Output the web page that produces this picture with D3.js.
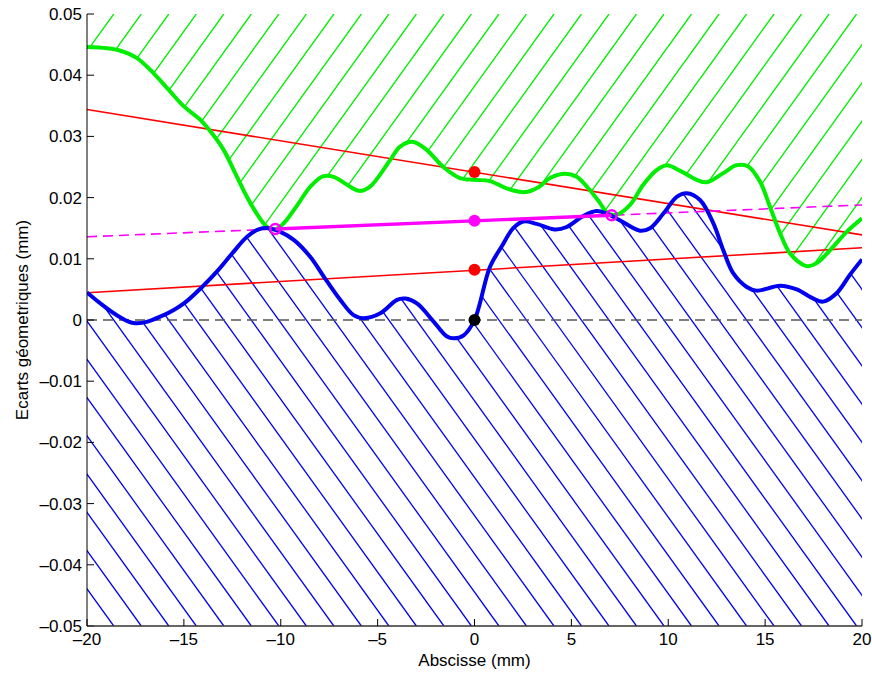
<!DOCTYPE html>
<html><head><meta charset="utf-8">
<script src="https://cdn.jsdelivr.net/npm/d3@7"></script>
<style>
body{margin:0;background:#fff;}
text{font-family:"Liberation Sans",Arial,sans-serif;}
</style></head>
<body><svg id="chart" width="872" height="673"></svg>
<script>
// ---- data ----
const xTicks = [-20,-15,-10,-5,0,5,10,15,20];
const xTickLabels = ["\u201320","\u201315","\u201310","\u20135","0","5","10","15","20"];
const yTicks = [-0.05,-0.04,-0.03,-0.02,-0.01,0,0.01,0.02,0.03,0.04,0.05];
const yTickLabels = ["\u20130.05","\u20130.04","\u20130.03","\u20130.02","\u20130.01","0","0.01","0.02","0.03","0.04","0.05"];

// lower profile (blue)
const lowerX = [-20,-17.6,-16.04,-15.0,-14.06,-13.3,-12.5,-11.74,-11.14,-10.62,-10.02,-9.33,-8.47,-7.78,-6.93,-6.24,-5.7,-4.86,-4.0,-3.57,-2.97,-2.1,-1.42,-1.07,-0.56,0,0.8,1.4,2.0,2.52,3.21,4.15,4.76,5.62,6.3,6.82,7.5,8.54,9.06,9.75,10.44,10.95,11.64,12.33,12.84,13.36,14.05,14.56,15.77,16.63,17.49,18.0,18.7,19.38,20];
const lowerY = [0.0045,-0.0005,0.0008,0.0027,0.0054,0.0079,0.0109,0.0136,0.0148,0.0150,0.0144,0.0131,0.0103,0.0071,0.0033,0.0008,0.0003,0.0011,0.0033,0.0035,0.0027,-0.0003,-0.0027,-0.0030,-0.0025,0.0,0.0087,0.0120,0.0150,0.0161,0.0157,0.0148,0.0152,0.0170,0.0178,0.0174,0.0163,0.0146,0.0150,0.0174,0.0201,0.0207,0.0196,0.0158,0.0114,0.0076,0.0054,0.0048,0.0056,0.0050,0.0035,0.0030,0.0044,0.0074,0.0099];

// upper profile (green)
const upperX = [-20,-18.97,-18.28,-17.42,-16.56,-15.78,-15.0,-14.15,-13.55,-12.95,-12.35,-11.74,-11.14,-10.71,-10.3,-9.85,-9.16,-8.47,-7.8,-7.27,-6.58,-5.95,-5.39,-4.36,-3.85,-3.16,-2.47,-1.61,-0.75,0,0.8,1.66,2.6,3.3,3.9,4.67,5.27,5.96,6.48,6.85,7.34,8.03,8.71,9.4,9.92,10.6,11.47,11.98,12.84,13.53,14.13,14.74,15.25,15.77,16.28,16.97,17.23,17.66,18.35,19.21,20];
const upperY = [0.0446,0.0444,0.0440,0.0428,0.0403,0.0376,0.0349,0.0327,0.0305,0.0278,0.0240,0.0201,0.0169,0.0152,0.0148,0.0158,0.0187,0.0218,0.0235,0.0234,0.0221,0.0211,0.0218,0.0261,0.0283,0.0291,0.0278,0.0250,0.0232,0.0229,0.0227,0.0215,0.0209,0.0217,0.0232,0.0239,0.0234,0.0212,0.0191,0.0175,0.0172,0.0188,0.0221,0.0245,0.0253,0.0244,0.0229,0.0225,0.0240,0.0253,0.0251,0.0226,0.0185,0.0142,0.0109,0.0090,0.0088,0.0093,0.0114,0.0144,0.0166];

// reference lines (value at x=-20 and x=20)
const redUpperEnds = [0.0344, 0.0139];
const redLowerEnds = [0.00446, 0.0118];
const magentaEnds = [0.0136, 0.0188];
// magenta contact points and mid point
const contactX = [-10.28, 7.08];
const midX = 0;
// markers
const redDots = [[0,0.0242],[0,0.0082]];
const blackDot = [0,0];

// hatch definition (data units)
const hatchStep = 1.42;          // mm between lines along x
const hatchSlope = 0.0044;       // rise per mm
const blueHatchStart = -18.62;   // x where a blue hatch line meets y=-0.05
const greenHatchStart = 9.78;    // x where a green hatch line meets y=0.05

// ---- layout ----
const W = 872, H = 673;
const m = {left:87, right:10, top:14, bottom:47};
const svg = d3.select("#chart");
const x = d3.scaleLinear().domain([-20,20]).range([m.left, W-m.right]);
const y = d3.scaleLinear().domain([-0.05,0.05]).range([H-m.bottom, m.top]);

const defs = svg.append("defs");
defs.append("clipPath").attr("id","plotClip").append("rect")
  .attr("x",x(-20)).attr("y",y(0.05)).attr("width",x(20)-x(-20)).attr("height",y(-0.05)-y(0.05));

const lowerPts = lowerX.map((v,i)=>[v,lowerY[i]]);
const upperPts = upperX.map((v,i)=>[v,upperY[i]]);
const curve = d3.curveCatmullRom.alpha(0.5);

defs.append("clipPath").attr("id","greenClip").append("path")
  .attr("d", d3.area().x(d=>x(d[0])).y0(y(0.05)).y1(d=>y(d[1])).curve(curve)(upperPts));
defs.append("clipPath").attr("id","blueClip").append("path")
  .attr("d", d3.area().x(d=>x(d[0])).y0(y(-0.05)).y1(d=>y(d[1])).curve(curve)(lowerPts));

const plot = svg.append("g").attr("clip-path","url(#plotClip)");

// hatches
const gH = plot.append("g").attr("clip-path","url(#greenClip)");
const greenLines = [];
for (let k=-40;k<40;k++){
  const xt = greenHatchStart + k*hatchStep;
  if (xt < -20 || xt > 20 + 0.1/hatchSlope) continue;
  greenLines.push([[xt,0.05],[xt-0.1/hatchSlope,-0.05]]);
}
gH.selectAll("line").data(greenLines).join("line")
  .attr("x1",d=>x(d[0][0])).attr("y1",d=>y(d[0][1]))
  .attr("x2",d=>x(d[1][0])).attr("y2",d=>y(d[1][1]))
  .attr("stroke","#00ee00").attr("stroke-width",1.3);

const bH = plot.append("g").attr("clip-path","url(#blueClip)");
const blueLines = [];
for (let k=-40;k<40;k++){
  const xb = blueHatchStart + k*hatchStep;
  if (xb < -20 || xb > 20 + 0.1/hatchSlope) continue;
  blueLines.push([[xb,-0.05],[xb-0.1/hatchSlope,0.05]]);
}
bH.selectAll("line").data(blueLines).join("line")
  .attr("x1",d=>x(d[0][0])).attr("y1",d=>y(d[0][1]))
  .attr("x2",d=>x(d[1][0])).attr("y2",d=>y(d[1][1]))
  .attr("stroke","#0000ee").attr("stroke-width",1.3);

// zero dashed line
plot.append("line").attr("x1",x(-20)).attr("x2",x(20)).attr("y1",y(0)).attr("y2",y(0))
  .attr("stroke","#555").attr("stroke-width",1.3).attr("stroke-dasharray","10,6");

// red lines
[redUpperEnds, redLowerEnds].forEach(e=>{
  plot.append("line").attr("x1",x(-20)).attr("y1",y(e[0])).attr("x2",x(20)).attr("y2",y(e[1]))
    .attr("stroke","#ff0000").attr("stroke-width",1.6);
});
// magenta dashed
plot.append("line").attr("x1",x(-20)).attr("y1",y(magentaEnds[0])).attr("x2",x(20)).attr("y2",y(magentaEnds[1]))
  .attr("stroke","#ff00ff").attr("stroke-width",1.6).attr("stroke-dasharray","10,6");

// profiles
const line = d3.line().x(d=>x(d[0])).y(d=>y(d[1])).curve(curve);
plot.append("path").attr("d",line(upperPts)).attr("fill","none").attr("stroke","#00ee00").attr("stroke-width",4);
plot.append("path").attr("d",line(lowerPts)).attr("fill","none").attr("stroke","#0000ee").attr("stroke-width",4);

// magenta solid segment
const mag = xv => magentaEnds[0] + (magentaEnds[1]-magentaEnds[0])*(xv+20)/40;
plot.append("line").attr("x1",x(contactX[0])).attr("y1",y(mag(contactX[0])))
  .attr("x2",x(contactX[1])).attr("y2",y(mag(contactX[1])))
  .attr("stroke","#ff00ff").attr("stroke-width",3.4);

// markers
svg.selectAll("circle.contact").data(contactX).join("circle").attr("class","contact")
  .attr("cx",d=>x(d)).attr("cy",d=>y(mag(d))).attr("r",5)
  .attr("fill","none").attr("stroke","#ff00ff").attr("stroke-width",2.5);
svg.append("circle").attr("cx",x(midX)).attr("cy",y(mag(midX))).attr("r",6).attr("fill","#ff00ff");
svg.selectAll("circle.red").data(redDots).join("circle").attr("class","red")
  .attr("cx",d=>x(d[0])).attr("cy",d=>y(d[1])).attr("r",6).attr("fill","#ff0000");
svg.append("circle").attr("cx",x(blackDot[0])).attr("cy",y(blackDot[1])).attr("r",6).attr("fill","#000");

// axes
const tickLen = 7;
const axL = svg.append("g");
axL.append("line").attr("x1",x(-20)).attr("x2",x(-20)).attr("y1",y(-0.05)).attr("y2",y(0.05)).attr("stroke","#000").attr("stroke-width",1);
yTicks.forEach((t,i)=>{
  axL.append("line").attr("x1",x(-20)).attr("x2",x(-20)+tickLen).attr("y1",y(t)).attr("y2",y(t)).attr("stroke","#000");
  axL.append("text").attr("x",x(-20)-5).attr("y",y(t)).attr("dy","0.35em").attr("text-anchor","end")
    .attr("font-size",17).text(yTickLabels[i]);
});
const axB = svg.append("g");
axB.append("line").attr("x1",x(-20)).attr("x2",x(20)).attr("y1",y(-0.05)).attr("y2",y(-0.05)).attr("stroke","#333").attr("stroke-width",1.3);
xTicks.forEach((t,i)=>{
  axB.append("line").attr("x1",x(t)).attr("x2",x(t)).attr("y1",y(-0.05)).attr("y2",y(-0.05)-tickLen).attr("stroke","#000");
  axB.append("text").attr("x",x(t)).attr("y",y(-0.05)+19).attr("text-anchor","middle")
    .attr("font-size",17).text(xTickLabels[i]);
});
svg.append("text").attr("x",(x(-20)+x(20))/2).attr("y",666).attr("text-anchor","middle")
  .attr("font-size",17).text("Abscisse (mm)");
svg.append("text").attr("transform",`translate(28,${y(0)}) rotate(-90)`).attr("text-anchor","middle")
  .attr("font-size",17).text("Ecarts géometriques (mm)");
</script></body></html>
